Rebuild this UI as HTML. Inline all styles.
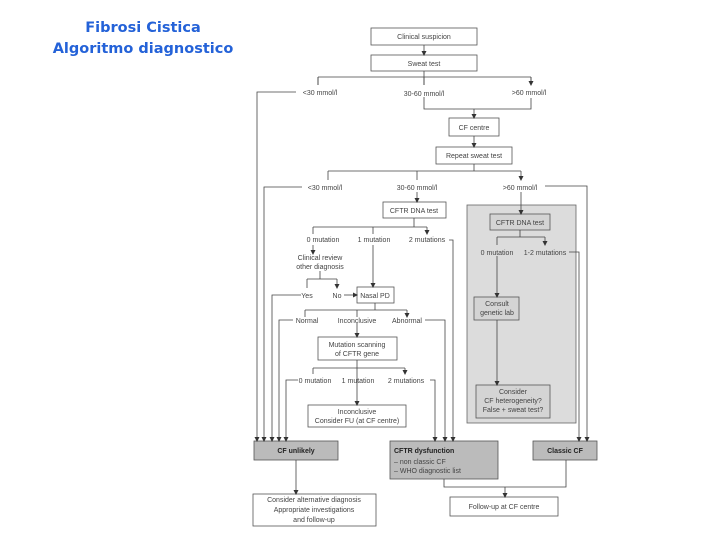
<!DOCTYPE html>
<html><head><meta charset="utf-8"><style>
body{margin:0;background:#fff;width:720px;height:540px;overflow:hidden}
svg{display:block}
text{font-family:"Liberation Sans",sans-serif;font-size:7px;fill:#444}
.t{font-family:"DejaVu Sans",sans-serif;font-size:14.5px;font-weight:bold;fill:#2462d8}
.b{font-weight:bold;fill:#222}
</style></head><body>
<svg width="720" height="540" viewBox="0 0 720 540">
<defs><marker id="a" markerWidth="5" markerHeight="5" refX="4" refY="2.5" orient="auto" markerUnits="userSpaceOnUse"><path d="M0,0 L5,2.5 L0,5z" fill="#333"/></marker></defs>
<text class="t" x="143" y="32" text-anchor="middle">Fibrosi Cistica</text>
<text class="t" x="143" y="53" text-anchor="middle">Algoritmo diagnostico</text>

<rect x="467" y="205" width="109" height="218" fill="#dcdcdc" stroke="#666" stroke-width="0.8"/>
<g fill="#fff" stroke="#555" stroke-width="0.8">
<rect x="371" y="28" width="106" height="17"/>
<rect x="371" y="55" width="106" height="16"/>
<rect x="449" y="118" width="50" height="18"/>
<rect x="436" y="147" width="76" height="17"/>
<rect x="383" y="202" width="63" height="16"/>
<rect x="490" y="214" width="60" height="16" fill="#d4d4d4"/>
<rect x="357" y="287" width="37" height="16"/>
<rect x="318" y="337" width="79" height="23"/>
<rect x="308" y="405" width="98" height="22"/>
<rect x="474" y="297" width="45" height="23" fill="#d4d4d4"/>
<rect x="476" y="385" width="74" height="33" fill="#d4d4d4"/>
<rect x="254" y="441" width="84" height="19" fill="#bbb"/>
<rect x="390" y="441" width="108" height="38" fill="#bbb"/>
<rect x="533" y="441" width="64" height="19" fill="#bbb"/>
<rect x="253" y="494" width="123" height="32"/>
<rect x="450" y="497" width="108" height="19"/>
</g>
<g stroke="#444" stroke-width="0.8" fill="none">
<path d="M424,45V55" marker-end="url(#a)"/>
<path d="M424,71V77M318,77H531M318,77V85M424,77V85M531,77V85" />
<path d="M318,77V85M424,77V85M531,77V85" marker-end="url(#a)"/>
<path d="M296,92H257V441" marker-end="url(#a)"/>
<path d="M424,97V109H531V98M474,109V118" marker-end="url(#a)"/>
<path d="M474,136V147" marker-end="url(#a)"/>
<path d="M474,164V171M328,171H521"/>
<path d="M328,171V180M417,171V180M521,171V180" marker-end="url(#a)"/>
<path d="M302,187H264V441" marker-end="url(#a)"/>
<path d="M545,186H587V441" marker-end="url(#a)"/>
<path d="M417,192V202" marker-end="url(#a)"/>
<path d="M521,192V214" marker-end="url(#a)"/>
<path d="M414,218V227M313,227H427"/>
<path d="M313,227V234M373,227V234M427,227V234" marker-end="url(#a)"/>
<path d="M449,240H453V441" marker-end="url(#a)"/>
<path d="M313,245V254" marker-end="url(#a)"/>
<path d="M320,271V279M307,279H337"/>
<path d="M307,279V288M337,279V288" marker-end="url(#a)"/>
<path d="M301,295H272V441" marker-end="url(#a)"/>
<path d="M344,295H357" marker-end="url(#a)"/>
<path d="M373,245V287" marker-end="url(#a)"/>
<path d="M375,303V310M305,310H407"/>
<path d="M305,310V317M357,310V317M407,310V317" marker-end="url(#a)"/>
<path d="M293,320H279V441" marker-end="url(#a)"/>
<path d="M425,320H445V441" marker-end="url(#a)"/>
<path d="M357,323V337" marker-end="url(#a)"/>
<path d="M357,360V368M313,368H405"/>
<path d="M313,368V374M405,368V374" marker-end="url(#a)"/>
<path d="M357,368V405" marker-end="url(#a)"/>
<path d="M298,380H286V441" marker-end="url(#a)"/>
<path d="M430,380H435V441" marker-end="url(#a)"/>
<path d="M520,230V237M497,237H545"/>
<path d="M497,237V245M545,237V245" marker-end="url(#a)"/>
<path d="M569,252H579V441" marker-end="url(#a)"/>
<path d="M497,256V297" marker-end="url(#a)"/>
<path d="M497,320V385" marker-end="url(#a)"/>
<path d="M296,460V494" marker-end="url(#a)"/>
<path d="M444,479V487H566V460M505,487V497" marker-end="url(#a)"/>
</g>
<g text-anchor="middle">
<text x="424" y="39">Clinical suspicion</text>
<text x="424" y="66">Sweat test</text>
<text x="320" y="95">&lt;30 mmol/l</text>
<text x="424" y="96">30-60 mmol/l</text>
<text x="529" y="95">&gt;60 mmol/l</text>
<text x="474" y="130">CF centre</text>
<text x="474" y="158">Repeat sweat test</text>
<text x="325" y="190">&lt;30 mmol/l</text>
<text x="417" y="190">30-60 mmol/l</text>
<text x="520" y="190">&gt;60 mmol/l</text>
<text x="414" y="213">CFTR DNA test</text>
<text x="520" y="225">CFTR DNA test</text>
<text x="323" y="242">0 mutation</text>
<text x="374" y="242">1 mutation</text>
<text x="427" y="242">2 mutations</text>
<text x="497" y="255">0 mutation</text>
<text x="545" y="255">1-2 mutations</text>
<text x="320" y="260">Clinical review</text>
<text x="320" y="269">other diagnosis</text>
<text x="307" y="298">Yes</text>
<text x="337" y="298">No</text>
<text x="375" y="298">Nasal PD</text>
<text x="307" y="323">Normal</text>
<text x="357" y="323">Inconclusive</text>
<text x="407" y="323">Abnormal</text>
<text x="357" y="347">Mutation scanning</text>
<text x="357" y="356">of CFTR gene</text>
<text x="315" y="383">0 mutation</text>
<text x="358" y="383">1 mutation</text>
<text x="406" y="383">2 mutations</text>
<text x="357" y="414">Inconclusive</text>
<text x="357" y="423">Consider FU (at CF centre)</text>
<text x="497" y="306">Consult</text>
<text x="497" y="315">genetic lab</text>
<text x="513" y="394">Consider</text>
<text x="513" y="403">CF heterogeneity?</text>
<text x="513" y="412">False + sweat test?</text>
<text class="b" x="296" y="453">CF unlikely</text>
<text class="b" x="565" y="453">Classic CF</text>
<text x="314" y="502">Consider alternative diagnosis</text>
<text x="314" y="512">Appropriate investigations</text>
<text x="314" y="522">and follow-up</text>
<text x="504" y="509">Follow-up at CF centre</text>
</g>
<text class="b" x="394" y="453">CFTR dysfunction</text>
<text x="394" y="464">– non classic CF</text>
<text x="394" y="473">– WHO diagnostic list</text>
</svg>
</body></html>
